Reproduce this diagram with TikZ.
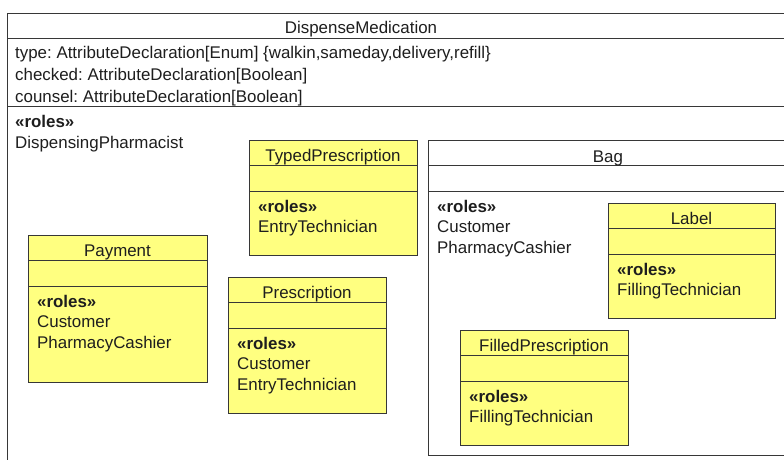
\documentclass[tikz,border=0pt]{standalone}
\usepackage{fontspec}
\setmainfont{Liberation Sans}
\frenchspacing
\definecolor{umlyellow}{RGB}{255,255,128}
\definecolor{ink}{RGB}{30,30,30}
\definecolor{edge}{RGB}{55,55,55}
\tikzset{
  frame/.style={draw=edge, line width=0.9pt},
  clsbox/.style={frame, fill=umlyellow, anchor=north west, inner sep=0pt, outer sep=0pt},
  plainbox/.style={frame, fill=white, anchor=north west, inner sep=0pt, outer sep=0pt},
  txt/.style={anchor=base west, inner sep=0pt, text=ink, font=\fontsize{16.9}{20}\selectfont\frenchspacing},
  ttl/.style={txt, anchor=base},
  stereo/.style={txt, font=\fontsize{16.9}{20}\selectfont\bfseries},
}
% name, x, y, width, height, title, role lines
\newcommand\umlcls[7]{%
  \node[clsbox, minimum width=#4pt, minimum height=#5pt] (#1) at (#2,#3) {};
  \draw[frame] (#2,#3+25.5) -- (#2+#4,#3+25.5);
  \draw[frame] (#2,#3+51) -- (#2+#4,#3+51);
  \node[ttl] (#1-title) at (#2+#4/2,#3+21) {#6};
  \node[stereo] (#1-st) at (#2+9,#3+72) {«roles»};
  \foreach \r [count=\i] in {#7} {\node[txt] (#1-r\i) at (#2+9,#3+72+20.8*\i) {\r};}
}
\begin{document}
\begin{tikzpicture}[x=1pt,y=-1pt]
\useasboundingbox (0,0) rectangle (784,460);
\clip (0,0) rectangle (784,460);
% outer class
\node[plainbox, minimum width=820pt, minimum height=480pt] (dm) at (7,13) {};
\draw[frame] (7,38) -- (827,38);
\draw[frame] (7,106.5) -- (827,106.5);
\node[ttl] (dm-title) at (361,34) {DispenseMedication};
\node[txt] (dm-a1) at (15,59) {type: AttributeDeclaration[Enum] \{walkin,sameday,delivery,refill\}};
\node[txt] (dm-a2) at (15,80.5) {checked: AttributeDeclaration[Boolean]};
\node[txt] (dm-a3) at (15,102) {counsel: AttributeDeclaration[Boolean]};
\node[stereo] (dm-st) at (15,127) {«roles»};
\node[txt] (dm-r1) at (15,148) {DispensingPharmacist};
% Bag
\node[plainbox, minimum width=359pt, minimum height=315pt] (bag) at (428.5,140) {};
\draw[frame] (428.5,165) -- (787.5,165);
\draw[frame] (428.5,191) -- (787.5,191);
\node[ttl] (bag-title) at (608,162) {Bag};
\node[stereo] (bag-st) at (437,212) {«roles»};
\node[txt] (bag-r1) at (437,232.8) {Customer};
\node[txt] (bag-r2) at (437,253.6) {PharmacyCashier};
% yellow classes
\umlcls{typed}{249}{140}{168}{115}{TypedPrescription}{EntryTechnician}
\umlcls{payment}{28}{235}{179}{147}{Payment}{Customer,PharmacyCashier}
\umlcls{presc}{228}{277}{158}{136}{Prescription}{Customer,EntryTechnician}
\umlcls{label}{608}{203}{167}{115}{Label}{FillingTechnician}
\umlcls{filled}{460}{330}{168}{115}{FilledPrescription}{FillingTechnician}
\end{tikzpicture}
\end{document}
